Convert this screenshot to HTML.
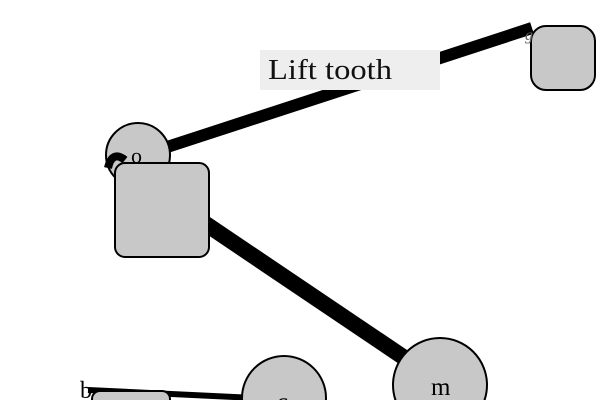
<!DOCTYPE html>
<html><head><style>html,body{margin:0;background:#fff;overflow:hidden;width:600px;height:400px}svg{display:block}</style></head><body>
<svg width="600" height="400" xmlns="http://www.w3.org/2000/svg" font-family="Liberation Serif, serif">
<line x1="112" y1="165" x2="532" y2="28" stroke="#000" stroke-width="12"/>
<line x1="200" y1="220" x2="415" y2="365" stroke="#000" stroke-width="16"/>
<line x1="88" y1="390" x2="255" y2="398" stroke="#000" stroke-width="6"/>
<rect x="260" y="50" width="180" height="40" fill="#eee"/>
<text x="268" y="79" font-size="28" fill="#111" textLength="124" lengthAdjust="spacingAndGlyphs">Lift tooth</text>
<circle cx="138" cy="155" r="32" fill="#c8c8c8" stroke="#000" stroke-width="2"/>
<text x="131" y="163" font-size="22">o</text>
<path d="M108,168 Q112,150 125,160" stroke="#000" stroke-width="8" fill="none"/>
<rect x="115" y="163" width="94" height="94" rx="10" fill="#c8c8c8" stroke="#000" stroke-width="2"/>
<rect x="531" y="26" width="64" height="64" rx="15" fill="#c8c8c8" stroke="#000" stroke-width="2"/>
<text x="525" y="40" font-size="16" fill="#666" font-style="italic">g</text>
<circle cx="440" cy="385" r="47" fill="#c8c8c8" stroke="#000" stroke-width="2"/>
<text x="431" y="395" font-size="25">m</text>
<circle cx="284" cy="398" r="42" fill="#c8c8c8" stroke="#000" stroke-width="2"/>
<text x="277" y="410" font-size="25">c</text>
<rect x="92" y="391" width="78" height="30" rx="8" fill="#c8c8c8" stroke="#000" stroke-width="2"/>
<text x="80" y="398" font-size="24">b</text>
</svg>
</body></html>
